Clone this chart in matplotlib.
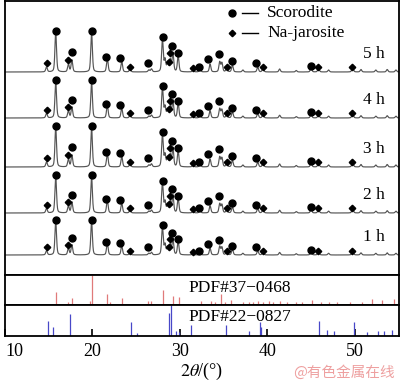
import numpy as np
import matplotlib
matplotlib.use("Agg")
import matplotlib.pyplot as plt

plt.rcParams['font.family'] = ['Liberation Serif', 'DejaVu Serif']
plt.rcParams['mathtext.fontset'] = 'stix'

# ---- data ----
# common peak list (2theta, relative height in px for the 5 h pattern)
peak_pos = [14.75, 15.8, 17.25, 17.65, 19.9, 21.7, 23.35, 24.3, 26.45, 26.75,
            28.0, 28.3, 28.6, 28.9, 29.2, 29.8, 31.5, 32.3, 33.45, 34.55, 34.8,
            35.35, 36.0, 37.2, 38.9, 39.5, 41.4, 43.3, 45.0, 45.85, 47.0,
            49.75, 50.7, 52.4, 53.7, 54.7]
peak_h = [5, 40, 8, 12, 40, 14, 11, 3, 2, 3,
          33, 12, 9, 12, 19, 16, 2, 3, 8, 10, 9,
          4, 7, 2, 5, 4, 3, 1.5, 4, 4, 2,
          5, 2.5, 2, 2.5, 2]

times = ["1 h", "2 h", "3 h", "4 h", "5 h"]
baselines = [20, 62, 108, 157, 203]
scales = [0.85, 0.92, 1.0, 0.92, 1.0]

# phase markers: 2theta, height above baseline (px, 5 h), kind
mark_pos = [14.75, 15.8, 17.2, 17.7, 19.9, 21.6, 23.2, 24.25, 26.4, 28.1, 28.7,
            28.9, 29.15, 29.8, 31.5, 32.15, 33.2, 34.5, 35.35, 35.9, 38.7, 39.5,
            45.0, 45.8, 49.7]
mark_h = [9, 41, 12, 20, 41, 15, 14, 5, 9, 35, 10,
          19, 26, 19, 4, 5, 13, 18, 5, 11, 9, 5,
          6, 5, 5]
mark_kind = ['J', 'S', 'J', 'S', 'S', 'S', 'S', 'J', 'S', 'S', 'J',
             'J', 'S', 'S', 'J', 'S', 'S', 'S', 'J', 'S', 'S', 'J',
             'S', 'J', 'J']

# PDF#37-0468 (scorodite) stick pattern
pdf37_pos = [15.8, 17.2, 17.7, 19.7, 19.9, 21.7, 21.97, 23.4, 26.4, 26.7, 28.05,
             29.2, 29.87, 32.4, 33.6, 34.06, 34.7, 35.1, 35.85, 37.2, 37.9, 38.3,
             38.9, 39.45, 40.2, 40.6, 41.4, 42.3, 43.3, 44.0, 45.15, 46.1, 47.06,
             48.0, 49.5, 50.85, 52.0, 53.1, 54.5]
pdf37_int = [0.44, 0.11, 0.24, 0.13, 1.0, 0.36, 0.11, 0.22, 0.13, 0.13, 0.5,
             0.3, 0.26, 0.13, 0.13, 0.1, 0.36, 0.1, 0.18, 0.1, 0.1, 0.1,
             0.15, 0.1, 0.12, 0.1, 0.15, 0.1, 0.1, 0.1, 0.18, 0.1, 0.1,
             0.1, 0.1, 0.1, 0.2, 0.18, 0.2]

# PDF#22-0827 (natrojarosite) stick pattern
pdf22_pos = [14.94, 15.5, 17.45, 24.37, 25.05, 28.7, 28.97, 29.57, 29.9, 31.25,
             35.25, 37.95, 39.2, 39.3, 45.85, 46.86, 47.6, 49.9, 51.4, 52.7,
             53.3, 54.3]
pdf22_int = [0.48, 0.29, 0.7, 0.44, 0.11, 0.74, 1.0, 0.15, 0.12, 0.35,
             0.35, 0.15, 0.45, 0.3, 0.48, 0.2, 0.15, 0.45, 0.13, 0.15,
             0.15, 0.2]

xticks = [10, 20, 30, 40, 50]

# ---- figure ----
W, H = 400, 383
fig = plt.figure(figsize=(W / 100, H / 100), dpi=100)
left = 5 / W
width = 394 / W
ax = fig.add_axes([left, (H - 275) / H, width, 274 / H])
ax37 = fig.add_axes([left, (H - 305) / H, width, 30 / H], sharex=ax)
ax22 = fig.add_axes([left, (H - 336) / H, width, 31 / H], sharex=ax)

x = np.linspace(10, 55.05, 4000)
pp = np.array(peak_pos)[:, None]
ph = np.array(peak_h)[:, None]
w = 0.09
profile = (ph * (0.6 * np.exp(-0.5 * ((x - pp) / w) ** 2)
                 + 0.4 / (1 + ((x - pp) / (w * 1.2)) ** 2))).sum(axis=0)

FS = 12.5
for t, b, s in zip(times, baselines, scales):
    ax.plot(x, b + s * profile, color='#555555', lw=0.85)
    for mp, mh, mk in zip(mark_pos, mark_h, mark_kind):
        if mk == 'S':
            ax.plot(mp, b + s * mh, marker='o', ms=5.0, color='black', mec='black')
        else:
            ax.plot(mp, b + s * mh, marker='D', ms=3.3, color='black', mec='black')
    ax.text(52.2, b + 18, t, ha='center', va='center', fontsize=FS)

ax.set_ylim(0, 274)
ax.set_xlim(10, 55.05)

# legend (manual)
for yf, mk, ms, lab in [(0.958, 'o', 5.0, 'Scorodite'), (0.882, 'D', 3.3, 'Na-jarosite')]:
    ax.plot([0.576], [yf], marker=mk, ms=ms, color='black', transform=ax.transAxes)
    ax.plot([0.601, 0.642], [yf, yf], color='black', lw=1.0, transform=ax.transAxes)
    ax.text(0.665, yf, lab, transform=ax.transAxes, ha='left', va='center', fontsize=FS)

ax37.vlines(pdf37_pos, 0, pdf37_int, color='#e07a7a', lw=0.9)
ax37.set_ylim(0, 1.0)
ax37.text(0.596, 0.58, 'PDF#37\u22120468', transform=ax37.transAxes, ha='center',
          va='center', fontsize=FS)
ax22.vlines(pdf22_pos, 0, pdf22_int, color='#4848c8', lw=0.9)
ax22.set_ylim(0, 1.0)
ax22.text(0.596, 0.62, 'PDF#22\u22120827', transform=ax22.transAxes, ha='center',
          va='center', fontsize=FS)

for a in (ax, ax37, ax22):
    a.set_yticks([])
    for sp in a.spines.values():
        sp.set_linewidth(1.3)
    a.tick_params(axis='x', which='both', bottom=False, labelbottom=False)

ax22.tick_params(axis='x', bottom=True, labelbottom=True, direction='in',
                 length=5, width=1.2, labelsize=13, pad=5)
ax22.set_xticks(xticks)
ax22.set_xticklabels([str(v) for v in xticks])
ax22.get_xticklabels()[0].set_ha('left')
ax22.set_xlabel(r'$\mathit{2\theta}$/(°)', fontsize=13, labelpad=1)

fig.text(0.988, 0.028, '@有色金属在线', ha='right', va='center', fontsize=10.5,
         color='#eea0a0', family=['Noto Sans CJK SC', 'DejaVu Sans'])

fig.savefig('out.png', dpi=100)
